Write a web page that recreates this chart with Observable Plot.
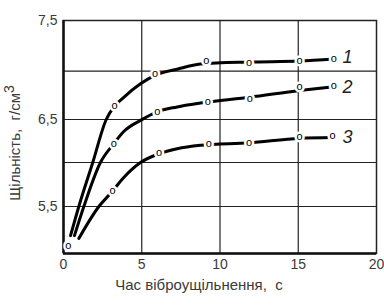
<!DOCTYPE html>
<html>
<head>
<meta charset="utf-8">
<script src="https://cdn.jsdelivr.net/npm/d3@7"></script>
<script src="https://cdn.jsdelivr.net/npm/@observablehq/plot@0.6"></script>
<style>
  html, body { margin: 0; padding: 0; background: white; }
</style>
</head>
<body>
<div id="chart"></div>
<script>
// ---- data ----
const xTicks = [0, 5, 10, 15, 20];
const xGrid = [5, 10, 15];
const yGrid = [5.5, 6, 6.5, 7];
const yTickLabels = [5.5, 6.5, 7.5];

// curve 1
const c1x = [0.45, 0.98, 1.87, 2.73, 3.22, 3.85, 4.92, 5.88, 7.26, 8.75, 11.85, 15.08, 17.27];
const c1y = [5.19, 5.50, 6.00, 6.50, 6.63, 6.73, 6.87, 6.96, 7.02, 7.07, 7.09, 7.10, 7.12];
// curve 2
const c2x = [0.70, 1.30, 2.36, 3.22, 3.85, 4.92, 5.98, 7.26, 8.75, 11.9, 15.08, 17.27];
const c2y = [5.19, 5.50, 6.00, 6.22, 6.36, 6.49, 6.58, 6.63, 6.67, 6.73, 6.80, 6.84];
// curve 3
const c3x = [0.98, 2.26, 3.11, 3.75, 4.92, 6.09, 7.26, 8.75, 11.85, 15.08, 17.2];
const c3y = [5.16, 5.50, 5.67, 5.81, 6.00, 6.10, 6.16, 6.20, 6.23, 6.28, 6.29];

// experimental points ("o")
const m1x = [3.26, 5.85, 9.12, 11.85, 15.08, 17.27];
const m1y = [6.64, 6.97, 7.10, 7.08, 7.10, 7.12];
const m2x = [3.22, 6.0, 9.22, 11.9, 15.08, 17.27];
const m2y = [6.21, 6.57, 6.68, 6.71, 6.83, 6.84];
const m3x = [3.14, 6.1, 9.29, 11.85, 15.08, 17.2];
const m3y = [5.67, 6.10, 6.21, 6.22, 6.29, 6.30];
const m0x = [0.3];
const m0y = [5.08];

const curveNames = ["1", "2", "3"];
const labelX = [18.15, 18.15, 18.15];
const labelY = [7.135, 6.83, 6.29];

const xTitle = "Час віброущільнення,  с";
const yTitleMain = "Щільність,  г/см";
const yTitleSup = "3";

// the printed density axis is slightly uneven: piecewise mapping of its gridlines
const yBreaks = [5, 5.5, 6, 6.5, 7, 7.5];
const yBreakPos = [0, 47, 91, 134, 182.3, 233];
const yWarp = d3.scaleLinear().domain(yBreaks).range(yBreakPos);

// ---- build tables ----
const rows = [];
[[c1x, c1y], [c2x, c2y], [c3x, c3y]].forEach(([xs, ys], i) =>
  xs.forEach((x, j) => rows.push({s: curveNames[i], x, y: ys[j]})));
const marks = [];
[[m1x, m1y], [m2x, m2y], [m3x, m3y], [m0x, m0y]].forEach(([xs, ys]) =>
  xs.forEach((x, j) => marks.push({x, y: ys[j]})));
const labels = curveNames.map((t, i) => ({t, x: labelX[i], y: labelY[i]}));

const font = "'Liberation Sans', Arial, sans-serif";

const plot = Plot.plot({
  width: 384,
  height: 305,
  marginLeft: 63,
  marginRight: 8,
  marginTop: 20,
  marginBottom: 52,
  style: {fontFamily: font, fontSize: "14px", color: "#3a3a3a", background: "white", overflow: "visible"},
  x: {domain: [0, 20]},
  y: {transform: yWarp, domain: [0, 233]},
  marks: [
    Plot.gridX(xGrid, {stroke: "#222", strokeOpacity: 1, strokeWidth: 1.2}),
    Plot.gridY(yGrid, {stroke: "#222", strokeOpacity: 1, strokeWidth: 1.2}),
    Plot.frame({stroke: "#222", strokeWidth: 1.5}),
    Plot.ruleX([0], {stroke: "#111", strokeWidth: 2.5}),
    Plot.ruleY([5], {stroke: "#111", strokeWidth: 2.5}),
    Plot.axisX(xTicks, {tickSize: 0, tickPadding: 6, label: null, fontSize: 14}),
    Plot.axisY(yTickLabels, {tickSize: 0, tickPadding: 6, label: null, fontSize: 14,
      tickFormat: d => d.toFixed(1).replace(".", ",")}),
    Plot.line(rows, {x: "x", y: "y", z: "s", curve: "monotone-x", stroke: "#000", strokeWidth: 3}),
    Plot.text(marks, {x: "x", y: "y", text: () => "o", fontSize: 11, fill: "#000",
      stroke: "white", strokeWidth: 5, dy: -1}),
    Plot.text(labels, {x: "x", y: "y", text: "t", fontSize: 18, fontStyle: "italic", fill: "#222"}),
    Plot.text([xTitle], {frameAnchor: "bottom", dy: 36, dx: -21, fontSize: 15, fill: "#3a3a3a"})
  ]
});
document.getElementById("chart").appendChild(plot);

// y title with superscript
const svg = d3.select(plot);
const t = svg.append("text")
  .attr("transform", "translate(20,143) rotate(-90)")
  .attr("text-anchor", "middle")
  .attr("font-family", font)
  .attr("font-size", 15)
  .attr("fill", "#3a3a3a");
t.append("tspan").text(yTitleMain);
t.append("tspan").attr("dy", -6).attr("font-size", 14).text(yTitleSup);
</script>
</body>
</html>
